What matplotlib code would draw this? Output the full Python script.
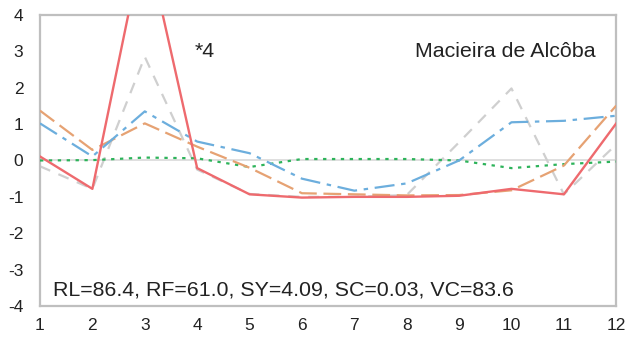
import matplotlib
matplotlib.use("Agg")
import matplotlib.pyplot as plt

plt.rcParams["font.family"] = ["Liberation Sans", "DejaVu Sans"]
plt.rcParams["axes.unicode_minus"] = False

months = list(range(1, 13))

# series values
red = [0.11, -0.78, 6.2, -0.21, -0.93, -1.02, -1.0, -1.0, -0.97, -0.78, -0.93, 1.02]
grey = [-0.16, -0.78, 2.85, -0.25, -0.92, -1.0, -1.0, -0.95, 0.5, 1.98, -0.93, 0.44]
blue = [1.02, 0.11, 1.35, 0.52, 0.2, -0.5, -0.83, -0.63, 0.0, 1.05, 1.09, 1.23]
orange = [1.37, 0.29, 1.02, 0.38, -0.2, -0.9, -0.93, -0.96, -0.95, -0.82, -0.14, 1.51]
green = [0.0, 0.01, 0.08, 0.06, -0.18, 0.04, 0.04, 0.04, 0.0, -0.21, -0.1, -0.03]

site = "Macieira de Alcôba"
stats = "RL=86.4, RF=61.0, SY=4.09, SC=0.03, VC=83.6"
marker = "*4"

fig = plt.figure(figsize=(6.25, 3.4), dpi=100)
ax = fig.add_axes([0.064, 0.1, 0.922, 0.856])

ax.axhline(0, color="#D9D9D9", lw=1.2, zorder=1)

ax.plot(months, grey, color="#CFCFCF", lw=1.6, ls=(0, (5, 4)), zorder=2)
ax.plot(months, green, color="#2DB35A", lw=1.6, ls=(0, (1.5, 2.5)), zorder=3)
ax.plot(months, orange, color="#E6A273", lw=1.6, ls=(0, (8, 3)), zorder=3)
ax.plot(months, blue, color="#6CAEDD", lw=1.6, ls=(0, (9, 3, 2, 3)), zorder=4)
ax.plot(months, red, color="#EE6A6E", lw=1.7, zorder=5)

ax.set_xlim(1, 12)
ax.set_ylim(-4, 4)
ax.set_xticks(months)
ax.set_yticks(range(-4, 5))
ax.tick_params(length=0, labelsize=12.5, colors="#222222")
ax.tick_params(axis="x", pad=9)
ax.tick_params(axis="y", pad=12)

for s in ax.spines.values():
    s.set_color("#BFBFBF")
    s.set_linewidth(1.6)

ax.text(0.268, 0.876, marker, transform=ax.transAxes, fontsize=15.4,
        ha="left", va="center", color="#222222")
ax.text(0.965, 0.876, site, transform=ax.transAxes, fontsize=15.4,
        ha="right", va="center", color="#222222")
ax.text(0.023, 0.055, stats, transform=ax.transAxes, fontsize=15.4,
        ha="left", va="center", color="#222222")

fig.savefig("out.png", dpi=100)
